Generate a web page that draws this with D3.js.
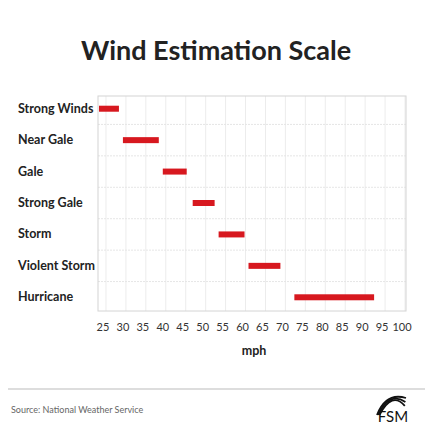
<!DOCTYPE html><html><head><meta charset="utf-8"><script src="https://cdn.jsdelivr.net/npm/d3@7"></script>
<style>body{margin:0;background:#fff}svg{font-family:Lato,sans-serif}</style></head><body><svg id="c" width="432" height="432"></svg><script>
const categories=["Strong Winds","Near Gale","Gale","Strong Gale","Storm","Violent Storm","Hurricane"];
const lowValues=[24,30,40,47.5,54,61.5,73];
const highValues=[29,39,46,53,60.5,69.5,93];
const tickValues=[25,30,35,40,45,50,55,60,65,70,75,80,85,90,95,100];
const svg=d3.select("#c");
const x=d3.scaleLinear().domain([23.75,101]).range([98,406]);
const y=d3.scaleBand().domain(categories).range([93,313]);
svg.append("text").attr("x",216).attr("y",60).attr("text-anchor","middle").attr("font-size",27).attr("font-weight",700).attr("fill","#222").text("Wind Estimation Scale");
const g=svg.append("g");
tickValues.forEach(v=>g.append("line").attr("x1",x(v)+3).attr("x2",x(v)+3).attr("y1",96).attr("y2",311).attr("stroke","#ececec"));
categories.slice(1).forEach(c=>g.append("line").attr("x1",98).attr("x2",406).attr("y1",y(c)).attr("y2",y(c)).attr("stroke","#e6e6e6").attr("stroke-dasharray","2,1"));
g.append("rect").attr("x",98).attr("y",96).attr("width",308).attr("height",215).attr("fill","none").attr("stroke","#d4d4d4");
categories.forEach((c,i)=>{
 g.append("rect").attr("x",x(lowValues[i])).attr("width",x(highValues[i])-x(lowValues[i])).attr("y",y(c)+y.bandwidth()/2-3).attr("height",6).attr("fill","#d7181f");
 svg.append("text").attr("x",18).attr("y",y(c)+y.bandwidth()/2+4).attr("font-size",12.5).attr("font-weight",700).attr("fill","#222").text(c);
});
tickValues.forEach(v=>svg.append("text").attr("x",x(v)).attr("y",331).attr("text-anchor","middle").attr("font-size",11).attr("fill","#333").text(v));
svg.append("text").attr("x",254).attr("y",355).attr("text-anchor","middle").attr("font-size",12.5).attr("font-weight",700).attr("fill","#222").text("mph");
svg.append("line").attr("x1",8).attr("x2",425).attr("y1",389).attr("y2",389).attr("stroke","#bbb");
svg.append("text").attr("x",11).attr("y",413).attr("font-size",9).attr("fill","#666").text("Source: National Weather Service");
const lg=svg.append("g");
[0,3,6].forEach(o=>lg.append("path").attr("d",`M${377+o*0.4},${415} Q${386+o},${392-o*0.2} ${406-o*0.2},${398+o*1.3}`).attr("fill","none").attr("stroke","#111").attr("stroke-width",1.8));
lg.append("text").attr("x",393).attr("y",422).attr("text-anchor","middle").attr("font-size",15).attr("fill","#111").text("FSM");
</script></body></html>
